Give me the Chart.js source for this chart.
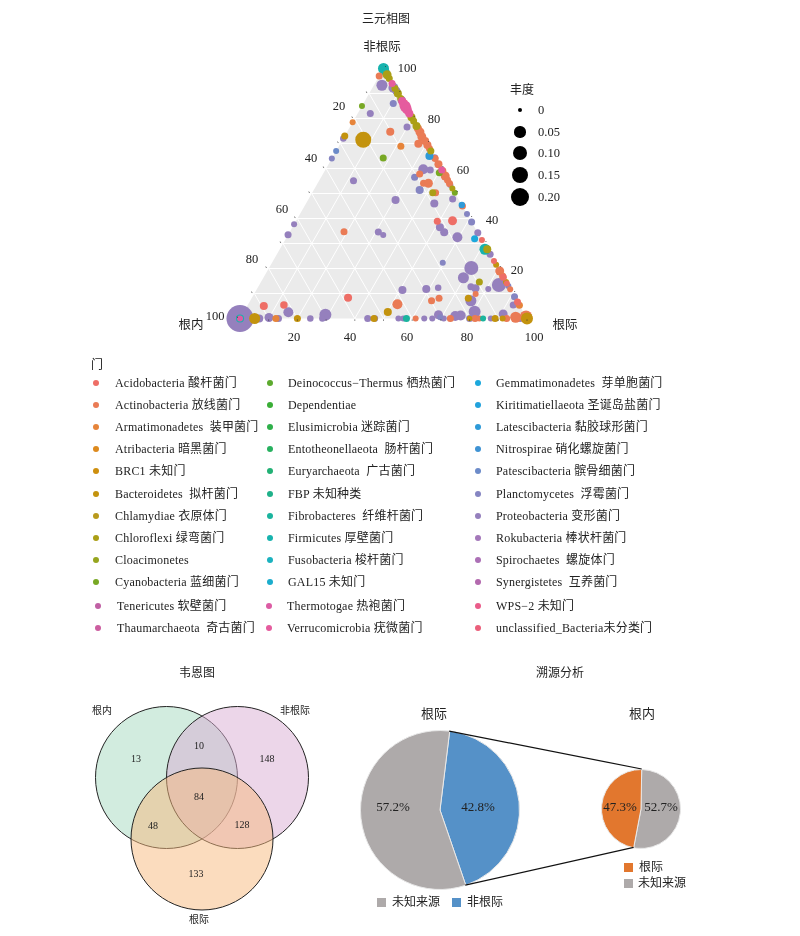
<!DOCTYPE html>
<html lang="zh">
<head>
<meta charset="UTF-8">
<title>三元相图 韦恩图 溯源分析</title>
<script src="https://cdn.jsdelivr.net/npm/chart.js"></script>
<style>
    body { margin: 0; background: #fff; }
    #page { position: relative; width: 800px; height: 936px; overflow: hidden;
            font-family: "Liberation Serif", "Noto Sans CJK SC", serif; color: #222; }
    canvas { position: absolute; }
    .t { position: absolute; white-space: pre; line-height: 1; z-index: 2; }
    .m { position: absolute; z-index: 2; }
    svg { position: absolute; left: 0; top: 0; z-index: 1; }
</style>
</head>
<body>
<div id="page">
    <canvas id="ternary" width="800" height="360" style="left:0;top:0"></canvas>
    <canvas id="venn" width="240" height="240" style="left:81.5px;top:678px"></canvas>
    <canvas id="pieBig" width="160" height="160" style="left:359.5px;top:730px"></canvas>
    <canvas id="pieSmall" width="80" height="80" style="left:601px;top:768.5px"></canvas>
</div>
<script>
// legend names, in legend order
const phyla = [
    'Acidobacteria 酸杆菌门', 'Actinobacteria 放线菌门', 'Armatimonadetes  装甲菌门', 'Atribacteria 暗黑菌门', 'BRC1 未知门',
    'Bacteroidetes  拟杆菌门', 'Chlamydiae 衣原体门', 'Chloroflexi 绿弯菌门', 'Cloacimonetes', 'Cyanobacteria 蓝细菌门',
    'Deinococcus−Thermus 栖热菌门', 'Dependentiae', 'Elusimicrobia 迷踪菌门', 'Entotheonellaeota  肠杆菌门', 'Euryarchaeota  广古菌门',
    'FBP 未知种类', 'Fibrobacteres  纤维杆菌门', 'Firmicutes 厚壁菌门', 'Fusobacteria 梭杆菌门', 'GAL15 未知门',
    'Gemmatimonadetes  芽单胞菌门', 'Kiritimatiellaeota 圣诞岛盐菌门', 'Latescibacteria 黏胶球形菌门', 'Nitrospirae 硝化螺旋菌门', 'Patescibacteria 髌骨细菌门',
    'Planctomycetes  浮霉菌门', 'Proteobacteria 变形菌门', 'Rokubacteria 棒状杆菌门', 'Spirochaetes  螺旋体门', 'Synergistetes  互养菌门',
    'Tenericutes 软壁菌门', 'Thaumarchaeota  奇古菌门', 'Thermotogae 热袍菌门', 'Verrucomicrobia 疣微菌门', 'WPS−2 未知门', 'unclassified_Bacteria未分类门'
];
const phylaColors = [
    '#ee6e66', '#ea7b55', '#e6843a', '#dd8a1e', '#ce8f0e', '#c3930e', '#b99a1d', '#ab9f16', '#96a51e', '#78a824',
    '#5daa2e', '#3aae36', '#2fb04a', '#27b15f', '#22b175', '#1fb18a', '#1ab49e', '#17b3ae', '#1bb2bf', '#1badcd',
    '#1ca8dc', '#22a2dc', '#2e9ad8', '#3f93d4', '#6c8bc9', '#8585c2', '#9580bd', '#a478ba', '#ac70b6', '#b369ae',
    '#c060a4', '#cc5ea0', '#dc5ca4', '#e55c9e', '#ea5c8a', '#eb5f7b'
];

// each point: [根际 %, 非根际 %, 丰度]; 根内 is what is left of 100
const acidobacteria = [[5.8,5,.016],[12.6,5.4,.012],[33.5,8.3,.016],[49.3,38.9,.009],[54.5,39.1,.024],[68.6,31.4,.004],[77,23,.004],[83.5,16.5,.009],[93.4,6.6,.009],[86,14,.004]];
const actinobacteria = [[0,97,.009],[15,74.7,.016],[25.4,74.6,.024],[27,72.7,.024],[27.2,69.9,.016],[30.6,69.4,.016],[38.3,61.7,.016],[43,57,.024],[44.6,55.4,.009],[18.9,34.7,.009],[33.7,57.8,.009],[36.9,54.1,.009],[38.6,54.1,.024],[55,45,.009],[43,50.3,.009],[81,19,.024],[88.3,11.7,.004],[77.2,9.8,.004],[63.2,7.1,.009],[65.3,8.1,.009],[52,5.7,.035],[95.8,.5,.048],[99.3,.7,.07],[61.2,0,.004],[73.3,0,.009],[81.9,0,.009],[83.4,0,.004],[92.9,0,.009],[24,76,.016],[29,71,.016],[32,68,.009],[36,64,.009],[41,59,.016],[46,54,.009],[83,17,.009]];
const armatimonadetes = [[0,78.5,.004],[21.6,68.9,.009],[94.7,5.3,.009],[12.5,0,.009]];
const bacteroidetes = [[7.2,71.5,.14],[0,73,.009],[50.2,2.6,.016],[75.5,8.1,.009],[5.1,0,.048],[20,0,.009],[46.7,0,.009],[78.5,21.5,.004],[85.4,14.6,.004],[88.9,0,.009],[91.5,0,.004],[100,0,.0625],[80,0,.002]];
const chloroflexi = [[2.5,97.5,.024],[6,94,.004],[10,90,.016],[19.5,80.5,.016],[23,77,.016],[33,67,.009],[42,50.3,.009],[72.3,27.7,.016],[76.1,14.6,.009],[4,96,.009],[8,92,.009],[12,88,.009],[21,79,.009],[48,52,.004]];
const cyanobacteria = [[0,85,.004],[17.8,64.2,.009],[16.4,83.6,.002],[40.3,58.3,.009],[49.7,50.3,.004]];
const fibrobacteres = [[58,0,.009],[84.7,0,.004]];
const firmicutes = [[0,100,.048],[1.5,98.5,.016],[0,0,.016],[71.5,27.7,.048]];
const gemmatimonadetes = [[65.8,31.9,.009]];
const latescibacteria = [[33.5,65,.016],[54.6,45.4,.006]];
const patescibacteria = [[0,67,.004]];
const planctomycetes = [[10.4,86,.009],[0,64,.004],[32.6,56.5,.009],[36.9,51.4,.016],[58.2,41.8,.004],[61.4,38.6,.009],[59.5,22.3,.004],[87,13,.004],[91.3,8.7,.009],[69.5,.5,.004]];
const proteobacteria = [[2.8,93.3,.048],[7.3,92.3,.035],[9,91,.016],[12.6,87.4,.016],[4.4,82,.009],[19.9,76.6,.009],[0,72,.006],[12,55.1,.009],[30.5,47.4,.016],[34,59.7,.035],[36.6,59.4,.009],[35.7,64.3,.009],[46.6,53.4,.004],[50.2,47.8,.009],[44.7,46,.016],[0,37.7,.004],[0,33.5,.009],[30.9,34.6,.009],[33.2,33.4,.004],[51.4,36.5,.016],[53.9,34.5,.016],[59.5,32.5,.035],[65.7,34.3,.009],[74.3,25.7,.009],[70.5,20.2,.098],[69.7,16.3,.048],[83.5,13.4,.098],[74.1,12.7,.009],[76,12.1,.016],[80.6,11.8,.004],[50.9,11.4,.016],[59,11.8,.016],[62.9,12.3,.006],[76.9,7.1,.048],[92.5,5.4,.009],[80.4,2.7,.0625],[90.8,1.8,.024],[15.6,2.5,.035],[29,1.5,.0625],[68.4,1.5,.024],[74.5,1,.035],[76.3,1.2,.035],[0,0,.52],[6.7,0,.016],[9.9,.4,.024],[13.4,0,.009],[24.5,0,.006],[28.7,0,.006],[44.5,0,.009],[47,0,.006],[55.2,0,.004],[56.9,0,.004],[64.2,0,.004],[67,0,.004],[71,0,.004],[80,0,.009],[87.4,0,.004],[97.6,0,.009]];
const thermotogae = [[0,0,.004]];
const verrucomicrobia = [[6,94,.009],[13,87,.016],[15.1,84.9,.048],[16.1,83.9,.035],[17,83,.016],[18,82,.016],[40.6,59.4,.009]];
const unclassifiedBacteria = [[14,86,.024]];
// same order as phyla; empty where no point could be told apart
const series = [
    acidobacteria, actinobacteria, armatimonadetes, [], [], bacteroidetes, [], chloroflexi, [], cyanobacteria,
    [], [], [], [], [], [], fibrobacteres, firmicutes, [], [],
    gemmatimonadetes, [], latescibacteria, [], patescibacteria, planctomycetes, proteobacteria, [], [], [],
    [], [], thermotogae, verrucomicrobia, [], unclassifiedBacteria
];
// lower goes on top
const seriesOrder = {17: 8, 1: 7, 25: 9, 26: 10, 33: -1, 35: -1, 32: -2};

const gridSteps = [10, 20, 30, 40, 50, 60, 70, 80, 90];
const tickSteps = [10, 20, 30, 40, 50, 60, 70, 80, 90, 100];
const sizeTicks = [0, 0.05, 0.10, 0.15, 0.20];
const sizeTickLabels = ['0', '0.05', '0.10', '0.15', '0.20'];

const vennSets = ['根内', '非根际', '根际'];
const vennCounts = [13, 148, 133, 10, 48, 128, 84];   // 内, 非, 际, 内∩非, 内∩际, 非∩际, all
const vennFills = ['rgba(165,217,191,0.5)', 'rgba(217,173,211,0.5)', 'rgba(247,185,125,0.5)'];

const bigPieLabels = ['非根际', '未知来源'];
const bigPieValues = [42.8, 57.2];
const bigPieColors = ['#5591c8', '#aeaaaa'];
const smallPieLabels = ['未知来源', '根际'];
const smallPieValues = [52.7, 47.3];
const smallPieColors = ['#aeaaaa', '#e2772e'];

const page = document.getElementById('page');

function put(text, x, y, size, align) {
    const el = document.createElement('div');
    el.className = 't';
    el.textContent = text;
    el.style.left = x + 'px';
    el.style.top = y + 'px';
    el.style.fontSize = size + 'px';
    el.style.transform = align === 'left' ? 'translateY(-50%)' : 'translate(-50%,-50%)';
    page.appendChild(el);
    return el;
}
function box(x, y, w, h, color, round) {
    const el = document.createElement('div');
    el.className = 'm';
    el.style.cssText += `left:${x - w / 2}px;top:${y - h / 2}px;width:${w}px;height:${h}px;background:${color};` + (round ? 'border-radius:50%;' : '');
    page.appendChild(el);
}
function dotRadius(a) { return 2 + 16 * Math.sqrt(a); }
// ternary -> plain x/y on a 0-100 scale
function tx(r, t) { return r + t / 2; }

// ---- ternary chart ----
const ternaryFrame = {
    id: 'ternaryFrame',
    beforeDatasetsDraw(chart) {
        const { x: sx, y: sy } = chart.scales, c = chart.ctx;
        const P = (r, t) => [sx.getPixelForValue(tx(r, t)), sy.getPixelForValue(t)];
        c.save();
        c.fillStyle = '#ebebeb';
        c.beginPath();
        c.moveTo(...P(0, 0)); c.lineTo(...P(100, 0)); c.lineTo(...P(0, 100));
        c.closePath(); c.fill();
        c.strokeStyle = '#fff';
        c.lineWidth = 1;
        gridSteps.forEach(v => {
            [[P(0, v), P(100 - v, v)], [P(v, 0), P(v, 100 - v)], [P(v, 0), P(0, v)]].forEach(([a, b]) => {
                c.beginPath(); c.moveTo(...a); c.lineTo(...b); c.stroke();
            });
        });
        c.restore();
    },
    afterDatasetsDraw(chart) {
        const { x: sx, y: sy } = chart.scales, c = chart.ctx;
        const P = (r, t) => [sx.getPixelForValue(tx(r, t)), sy.getPixelForValue(t)];
        c.save();
        c.strokeStyle = '#333';
        c.lineWidth = 0.8;
        tickSteps.forEach(v => {
            const marks = [[P(v, 0), 0, 1], [P(0, 100 - v), -2, -1], [P(100 - v, v), 1.5, -1.5]];
            marks.forEach(([p, dx, dy]) => {
                c.beginPath();
                c.moveTo(p[0] + dx, p[1] + dy);
                c.lineTo(p[0] + dx * 1.6, p[1] + dy * 1.6 + (dx ? 0 : 0.6));
                c.stroke();
            });
        });
        c.restore();
    }
};

new Chart(document.getElementById('ternary'), {
    type: 'bubble',
    data: {
        datasets: phyla.map((name, i) => ({
            label: name,
            data: series[i].map(p => ({ x: tx(p[0], p[1]), y: p[1], r: dotRadius(p[2]) })),
            backgroundColor: phylaColors[i],
            borderWidth: 0,
            order: seriesOrder[i] || 0,
            clip: false
        }))
    },
    options: {
        responsive: false,
        animation: false,
        layout: { padding: { left: 240, right: 273, top: 68.5, bottom: 41.5 } },
        scales: {
            x: { type: 'linear', min: 0, max: 100, display: false },
            y: { type: 'linear', min: 0, max: 100, display: false }
        },
        plugins: { legend: { display: false }, tooltip: { enabled: false } }
    },
    plugins: [ternaryFrame]
});

// titles and axis text of the ternary plot
put('三元相图', 386, 19, 12);
put('非根际', 382, 47, 12.5);
put('根内', 191, 325, 12.5);
put('根际', 565, 325, 12.5);
[['100', 215, 316], ['80', 252, 259], ['60', 282, 209], ['40', 311, 158], ['20', 339, 106]].forEach(a => put(a[0], a[1], a[2], 12.5));
[['100', 407, 68], ['80', 434, 119], ['60', 463, 170], ['40', 492, 220], ['20', 517, 270]].forEach(a => put(a[0], a[1], a[2], 12.5));
[['20', 294, 337], ['40', 350, 337], ['60', 407, 337], ['80', 467, 337], ['100', 534, 337]].forEach(a => put(a[0], a[1], a[2], 12.5));

// size legend
put('丰度', 522, 90, 12);
sizeTicks.forEach((a, i) => {
    const y = [110, 132, 153, 175, 197][i], r = dotRadius(a);
    box(520, y, r * 2, r * 2, '#000', true);
    put(sizeTickLabels[i], 538, y, 12.5, 'left');
});

// phylum legend
put('门', 97, 365, 12);
const legendRowY = [383, 405, 427, 449, 471, 494, 516, 538, 560, 582, 606, 628];
const legendDotX = [96, 270, 478], legendTextX = [115, 288, 496];
phyla.forEach((name, i) => {
    let col, row, shift = 0;
    if (i < 30) { col = Math.floor(i / 10); row = i % 10; }
    else { col = Math.floor((i - 30) / 2); row = 10 + (i - 30) % 2; shift = col === 2 ? 0 : (col === 0 ? 2 : -1); }
    box(legendDotX[col] + shift, legendRowY[row], 6, 6, phylaColors[i], true);
    put(name, legendTextX[col] + shift, legendRowY[row], 12, 'left').style.letterSpacing = '0.2px';
});

// ---- venn, three equal circles on a triangle with side = radius ----
// bubble charts reserve room for their own radius, so the padding has to stay above it
const vennAngles = [150, 30, 270].map(d => d * Math.PI / 180);
const vennRadiusPx = 71;
new Chart(document.getElementById('venn'), {
    type: 'bubble',
    data: {
        datasets: vennSets.map((name, i) => ({
            label: name,
            data: [{ x: Math.cos(vennAngles[i]) / Math.sqrt(3), y: Math.sin(vennAngles[i]) / Math.sqrt(3), r: vennRadiusPx }],
            backgroundColor: vennFills[i],
            borderColor: '#222',
            borderWidth: 1,
            order: 2 - i,
            clip: false
        }))
    },
    options: {
        responsive: false,
        animation: false,
        layout: { padding: 80 },
        scales: {
            x: { type: 'linear', min: -40 / 71, max: 40 / 71, display: false },
            y: { type: 'linear', min: -40 / 71, max: 40 / 71, display: false }
        },
        plugins: { legend: { display: false }, tooltip: { enabled: false } }
    }
});
put('韦恩图', 197, 673, 12);
put(vennSets[0], 102, 711, 10);
put(vennSets[1], 295, 711, 10);
put(vennSets[2], 199, 920, 10);
[[136, 759], [267, 759], [196, 874], [199, 746], [153, 826], [242, 825], [199, 797]].forEach((p, i) => put(String(vennCounts[i]), p[0], p[1], 10));

// ---- pies ----
function pie(id, labels, values, colors, rotation) {
    return new Chart(document.getElementById(id), {
        type: 'pie',
        data: { labels, datasets: [{ data: values, backgroundColor: colors, borderColor: '#e8e8e8', borderWidth: 1 }] },
        options: {
            responsive: false,
            animation: false,
            rotation,
            plugins: { legend: { display: false }, tooltip: { enabled: false } }
        }
    });
}
const bigPie = pie('pieBig', bigPieLabels, bigPieValues, bigPieColors, 7);
const smallPie = pie('pieSmall', smallPieLabels, smallPieValues, smallPieColors, 1);

// connector lines between the exploded slice and the second pie
function arcEnds(chart, canvasId) {
    const arc = chart.getDatasetMeta(0).data[0];
    const cv = document.getElementById(canvasId);
    const ox = parseFloat(cv.style.left), oy = parseFloat(cv.style.top);
    const at = ang => [ox + arc.x + arc.outerRadius * Math.cos(ang), oy + arc.y + arc.outerRadius * Math.sin(ang)];
    return [at(arc.startAngle), at(arc.endAngle)];
}
const bigEnds = arcEnds(bigPie, 'pieBig'), smallEnds = arcEnds(smallPie, 'pieSmall');
const svgNs = 'http://www.w3.org/2000/svg';
const svg = document.createElementNS(svgNs, 'svg');
svg.setAttribute('width', 800);
svg.setAttribute('height', 936);
[0, 1].forEach(i => {
    const l = document.createElementNS(svgNs, 'line');
    l.setAttribute('x1', bigEnds[i][0]); l.setAttribute('y1', bigEnds[i][1]);
    l.setAttribute('x2', smallEnds[i][0]); l.setAttribute('y2', smallEnds[i][1]);
    l.setAttribute('stroke', '#111');
    l.setAttribute('stroke-width', 1.2);
    svg.appendChild(l);
});
page.appendChild(svg);

put('溯源分析', 560, 673, 12);
put('根际', 434, 713, 13);
put('根内', 642, 713, 13);
put(bigPieValues[1].toFixed(1) + '%', 393, 806, 13);
put(bigPieValues[0].toFixed(1) + '%', 478, 806, 13);
put(smallPieValues[1].toFixed(1) + '%', 620, 806, 13);
put(smallPieValues[0].toFixed(1) + '%', 661, 806, 13);

box(381, 902, 9, 9, bigPieColors[1]);
put(bigPieLabels[1], 416, 902, 12);
box(456, 902, 9, 9, bigPieColors[0]);
put(bigPieLabels[0], 485, 902, 12);
box(628, 867, 9, 9, smallPieColors[1]);
put(smallPieLabels[1], 651, 867, 12);
box(628, 883, 9, 9, smallPieColors[0]);
put(smallPieLabels[0], 662, 883, 12);
</script>
</body>
</html>
